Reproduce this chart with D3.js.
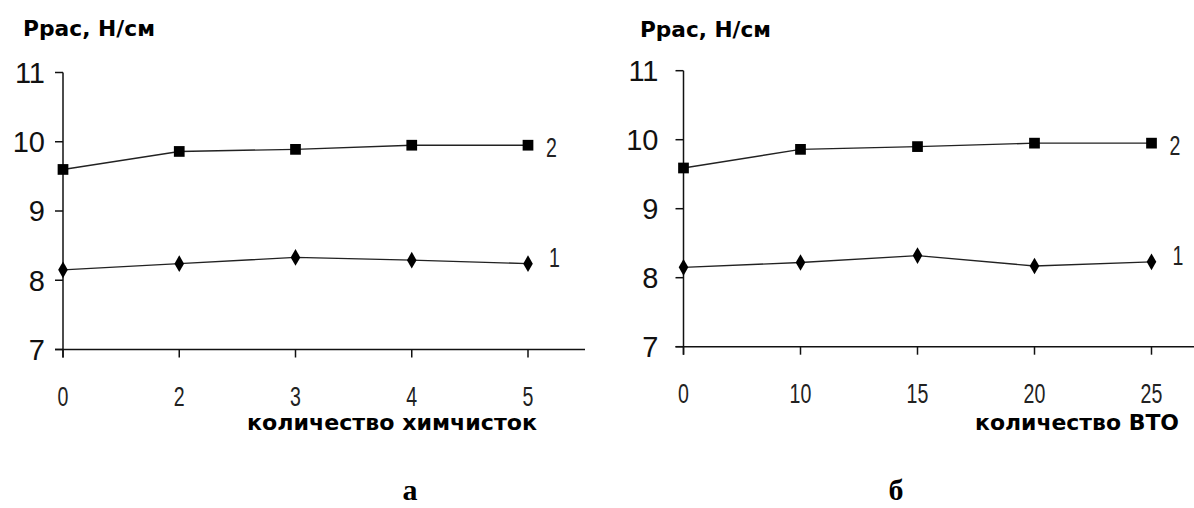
<!DOCTYPE html>
<html>
<head>
<meta charset="utf-8">
<style>
  body { margin: 0; background: #fff; }
  svg { display: block; }
  .tick-y { font-family: "Liberation Sans", Arial, sans-serif; font-size: 29px; fill: #111; }
  .tick-x, .serie { font-family: "Liberation Sans", Arial, sans-serif; font-size: 28px; fill: #222; }
  .ttl { font-family: "DejaVu Sans", Verdana, sans-serif; font-weight: bold; fill: #000; }
  .cap { font-family: "Liberation Serif", "Times New Roman", serif; font-weight: bold; font-size: 30px; fill: #000; }
</style>
</head>
<body>
<svg id="chart" width="1194" height="508"></svg>
<script src="https://cdn.jsdelivr.net/npm/d3@7"></script>
<script>
// chart a: number of dry cleanings
var cleanings = ['0', '2', '3', '4', '5'];
var cleanS1 = [8.15, 8.24, 8.33, 8.29, 8.24];
var cleanS2 = [9.60, 9.86, 9.89, 9.95, 9.95];

// chart б: number of ВТО (wet-heat treatments)
var vto = ['0', '10', '15', '20', '25'];
var vtoS1 = [8.15, 8.22, 8.32, 8.17, 8.23];
var vtoS2 = [9.59, 9.86, 9.90, 9.95, 9.95];

var yTicks = [7, 8, 9, 10, 11];
var yTitle = 'Ppac, H/cм';

var svg = d3.select('#chart');

var panels = [
    { cats: cleanings, s1: cleanS1, s2: cleanS2, xTitle: 'количество химчисток', cap: 'а',
      x0: 63, step: 116.25, axisEnd: 585, yTop: 72.5, yBot: 349.5, labGap: 18,
      yTitleX: 23, yTitleY: 36, yTitleW: 132, xTitleX: 537, xTitleW: 290, capX: 410 },
    { cats: vto, s1: vtoS1, s2: vtoS2, xTitle: 'количество ВТО', cap: 'б',
      x0: 683.5, step: 117, axisEnd: 1200, yTop: 70.7, yBot: 346.7, labGap: 25,
      yTitleX: 640, yTitleY: 37, yTitleW: 131, xTitleX: 1179, xTitleW: 204, capX: 896 }
];

panels.forEach(function (p) {
    var x = d3.scalePoint().domain(p.cats).range([p.x0, p.x0 + p.step * (p.cats.length - 1)]);
    var y = d3.scaleLinear().domain([7, 11]).range([p.yBot, p.yTop]);
    var g = svg.append('g');

    // y axis
    g.append('line').attr('x1', p.x0).attr('x2', p.x0).attr('y1', y(11)).attr('y2', y(7) + 8)
        .attr('stroke', '#111').attr('stroke-width', 1.5);
    g.selectAll('.yt').data(yTicks).enter().append('line')
        .attr('x1', p.x0 - 8).attr('x2', p.x0).attr('y1', function (d) { return y(d); })
        .attr('y2', function (d) { return y(d); }).attr('stroke', '#111').attr('stroke-width', 1.5);
    g.selectAll('.tick-y').data(yTicks).enter().append('text').attr('class', 'tick-y')
        .attr('x', p.x0 - p.labGap).attr('y', function (d) { return y(d); })
        .attr('dy', '0.36em').attr('text-anchor', 'end').text(function (d) { return d; });

    // x axis
    g.append('line').attr('x1', p.x0 - 8).attr('x2', p.axisEnd).attr('y1', y(7)).attr('y2', y(7))
        .attr('stroke', '#111').attr('stroke-width', 1.5);
    g.selectAll('.xt').data(p.cats).enter().append('line')
        .attr('x1', function (d) { return x(d); }).attr('x2', function (d) { return x(d); })
        .attr('y1', y(7)).attr('y2', y(7) + 8).attr('stroke', '#111').attr('stroke-width', 1.5);
    // thin narrow digits, as in the source
    g.selectAll('.tick-x').data(p.cats).enter().append('text').attr('class', 'tick-x')
        .attr('transform', function (d) { return 'translate(' + x(d) + ',' + (y(7) + 46) + ') scale(0.7,1)'; })
        .attr('dy', '0.36em').attr('text-anchor', 'middle').text(function (d) { return d; });

    // series
    var line = d3.line().x(function (d, i) { return x(p.cats[i]); }).y(function (d) { return y(d); });
    [p.s1, p.s2].forEach(function (s, k) {
        g.append('path').datum(s).attr('d', line).attr('fill', 'none')
            .attr('stroke', '#222').attr('stroke-width', 1.4);
        var sym = k === 0 ? d3.symbol().type(d3.symbolDiamond).size(80) : d3.symbol().type(d3.symbolSquare).size(115);
        g.selectAll('.m' + k).data(s).enter().append('path')
            .attr('transform', function (d, i) { return 'translate(' + x(p.cats[i]) + ',' + y(d) + ')'; })
            .attr('d', sym).attr('fill', '#000');
        var last = s[s.length - 1];
        g.append('text').attr('class', 'serie')
            .attr('transform', 'translate(' + (x(p.cats[p.cats.length - 1]) + (k === 0 ? 21 : 18)) + ',' +
                (y(last) + (k === 0 ? -7 : 2)) + ') scale(0.7,1)')
            .attr('dy', '0.36em').text(k + 1);
    });

    // titles
    g.append('text').attr('class', 'ttl').attr('x', p.yTitleX).attr('y', p.yTitleY)
        .attr('font-size', 22).attr('textLength', p.yTitleW).attr('lengthAdjust', 'spacingAndGlyphs')
        .text(yTitle);
    g.append('text').attr('class', 'ttl').attr('x', p.xTitleX - p.xTitleW).attr('y', 430)
        .attr('font-size', 21).attr('textLength', p.xTitleW).attr('lengthAdjust', 'spacingAndGlyphs')
        .text(p.xTitle);
    g.append('text').attr('class', 'cap').attr('x', p.capX).attr('y', 500)
        .attr('text-anchor', 'middle').text(p.cap);
});
</script>
</body>
</html>
